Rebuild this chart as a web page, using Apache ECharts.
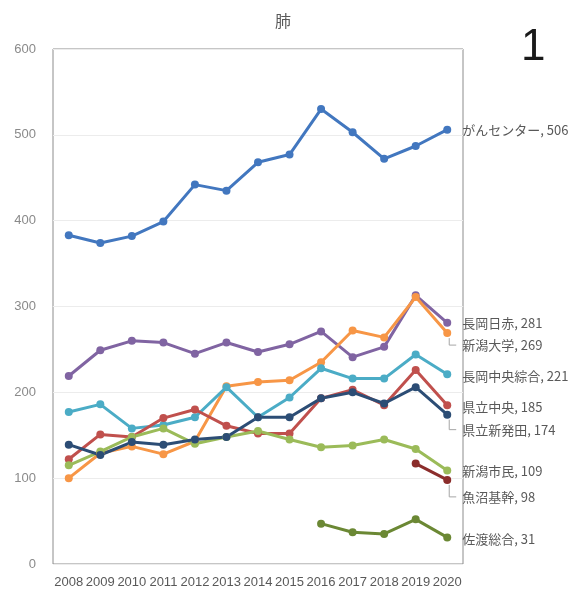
<!DOCTYPE html>
<html>
<head>
<meta charset="utf-8">
<script src="https://cdn.jsdelivr.net/npm/echarts@6/dist/echarts.min.js"></script>
<style>
  html, body { margin: 0; padding: 0; background: #fff; }
  #chart { width: 584px; height: 592px; }
</style>
</head>
<body>
<div id="chart"></div>
<script>
// Years on the category axis
const years = ['2008','2009','2010','2011','2012','2013','2014','2015','2016','2017','2018','2019','2020'];
const yTicks = [0, 100, 200, 300, 400, 500, 600];

// Yearly counts per hospital
const ganCenter        = [383, 374, 382, 399, 442, 435, 468, 477, 530, 503, 472, 487, 506];
const nagaokaSekijuji  = [219, 249, 260, 258, 245, 258, 247, 256, 271, 241, 253, 313, 281];
const niigataDaigaku   = [100, 129, 137, 128, 143, 207, 212, 214, 235, 272, 264, 311, 269];
const nagaokaChuo      = [177, 186, 158, 162, 171, 206, 171, 194, 228, 216, 216, 244, 221];
const kenritsuChuo     = [122, 151, 148, 170, 180, 161, 152, 152, 193, 203, 185, 226, 185];
const kenritsuShibata  = [139, 127, 142, 139, 145, 148, 171, 171, 193, 200, 187, 206, 174];
const niigataShimin    = [115, 131, 148, 158, 140, 148, 155, 145, 136, 138, 145, 134, 109];
const uonumaKikan      = [null, null, null, null, null, null, null, null, null, null, null, 117, 98];
const sadoSogo         = [null, null, null, null, null, null, null, null, 47, 37, 35, 52, 31];

const seriesDefs = [
  { name: 'がんセンター',   data: ganCenter,       color: '#4277bf', dy: 0 },
  { name: '長岡日赤',       data: nagaokaSekijuji, color: '#8064a2', dy: 0 },
  { name: '新潟大学',       data: niigataDaigaku,  color: '#f79646', dy: 12, leader: true },
  { name: '長岡中央綜合',   data: nagaokaChuo,     color: '#4bacc6', dy: 2 },
  { name: '県立中央',       data: kenritsuChuo,    color: '#c0504d', dy: 2 },
  { name: '新潟市民',       data: niigataShimin,   color: '#9bbb59', dy: 1 },
  { name: '県立新発田',     data: kenritsuShibata, color: '#2c4d75', dy: 15, leader: true },
  { name: '魚沼基幹',       data: uonumaKikan,     color: '#8b2d2b', dy: 17, leader: true },
  { name: '佐渡総合',       data: sadoSogo,        color: '#6b8834', dy: 2 }
];

const FONT = '"Noto Sans CJK JP", "Liberation Sans", sans-serif';

const chart = echarts.init(document.getElementById('chart'), null, { renderer: 'canvas' });

function buildSeries(def) {
  const last = def.data.length - 1;
  const data = def.data.map((v, i) => {
    if (i !== last) return v;
    return {
      value: v,
      label: {
        show: true,
        position: 'right',
        distance: 11,
        offset: [0, def.dy],
        formatter: def.name + ', ' + v,
        color: '#595959',
        fontSize: 13,
        fontFamily: FONT
      }
    };
  });
  return {
    name: def.name,
    type: 'line',
    data: data,
    symbol: 'circle',
    symbolSize: 8,
    connectNulls: false,
    lineStyle: { color: def.color, width: 3 },
    itemStyle: { color: def.color },
    emphasis: { disabled: true },
    animation: false
  };
}

chart.setOption({
  animation: false,
  backgroundColor: '#ffffff',
  title: {
    text: '肺',
    left: 278,
    top: 8,
    textAlign: 'center',
    textStyle: { color: '#595959', fontSize: 16, fontWeight: 'normal', fontFamily: FONT }
  },
  grid: {
    left: 53, right: 121, top: 49, bottom: 28,
    show: true,
    borderColor: '#8c8c8c',
    borderWidth: 1,
    backgroundColor: 'transparent'
  },
  xAxis: {
    type: 'category',
    data: years,
    boundaryGap: true,
    axisLine: { show: false },
    axisTick: { show: false },
    axisLabel: {
      interval: 0,
      margin: 12,
      color: '#595959',
      fontSize: 13,
      fontFamily: '"Liberation Sans", sans-serif'
    },
    splitLine: { show: false }
  },
  yAxis: {
    type: 'value',
    min: yTicks[0],
    max: yTicks[yTicks.length - 1],
    interval: 100,
    axisLine: { show: false },
    axisTick: { show: false },
    axisLabel: {
      margin: 17,
      color: '#8a8a8a',
      fontSize: 13,
      fontFamily: '"Liberation Sans", sans-serif'
    },
    splitLine: { show: true, lineStyle: { color: '#ececec', width: 1 } }
  },
  series: seriesDefs.map(buildSeries)
});

// Page number plus leader lines for the end labels that sit below their last point
const graphics = [
  {
    id: 'pageNo',
    type: 'text',
    left: 521,
    top: 26,
    style: { text: '1', fontSize: 44, fill: '#1a1a1a', fontFamily: '"Liberation Sans", sans-serif' }
  }
];
seriesDefs.forEach((def, i) => {
  if (!def.leader) return;
  const last = def.data.length - 1;
  const p = chart.convertToPixel({ seriesIndex: i }, [last, def.data[last]]);
  graphics.push({
    id: 'leader' + i,
    type: 'polyline',
    silent: true,
    z: 10,
    shape: { points: [[p[0] + 2, p[1] + 5], [p[0] + 2, p[1] + def.dy], [p[0] + 9, p[1] + def.dy]] },
    style: { stroke: '#a6a6a6', lineWidth: 1, fill: null }
  });
});
chart.setOption({ graphic: graphics });
</script>
</body>
</html>
